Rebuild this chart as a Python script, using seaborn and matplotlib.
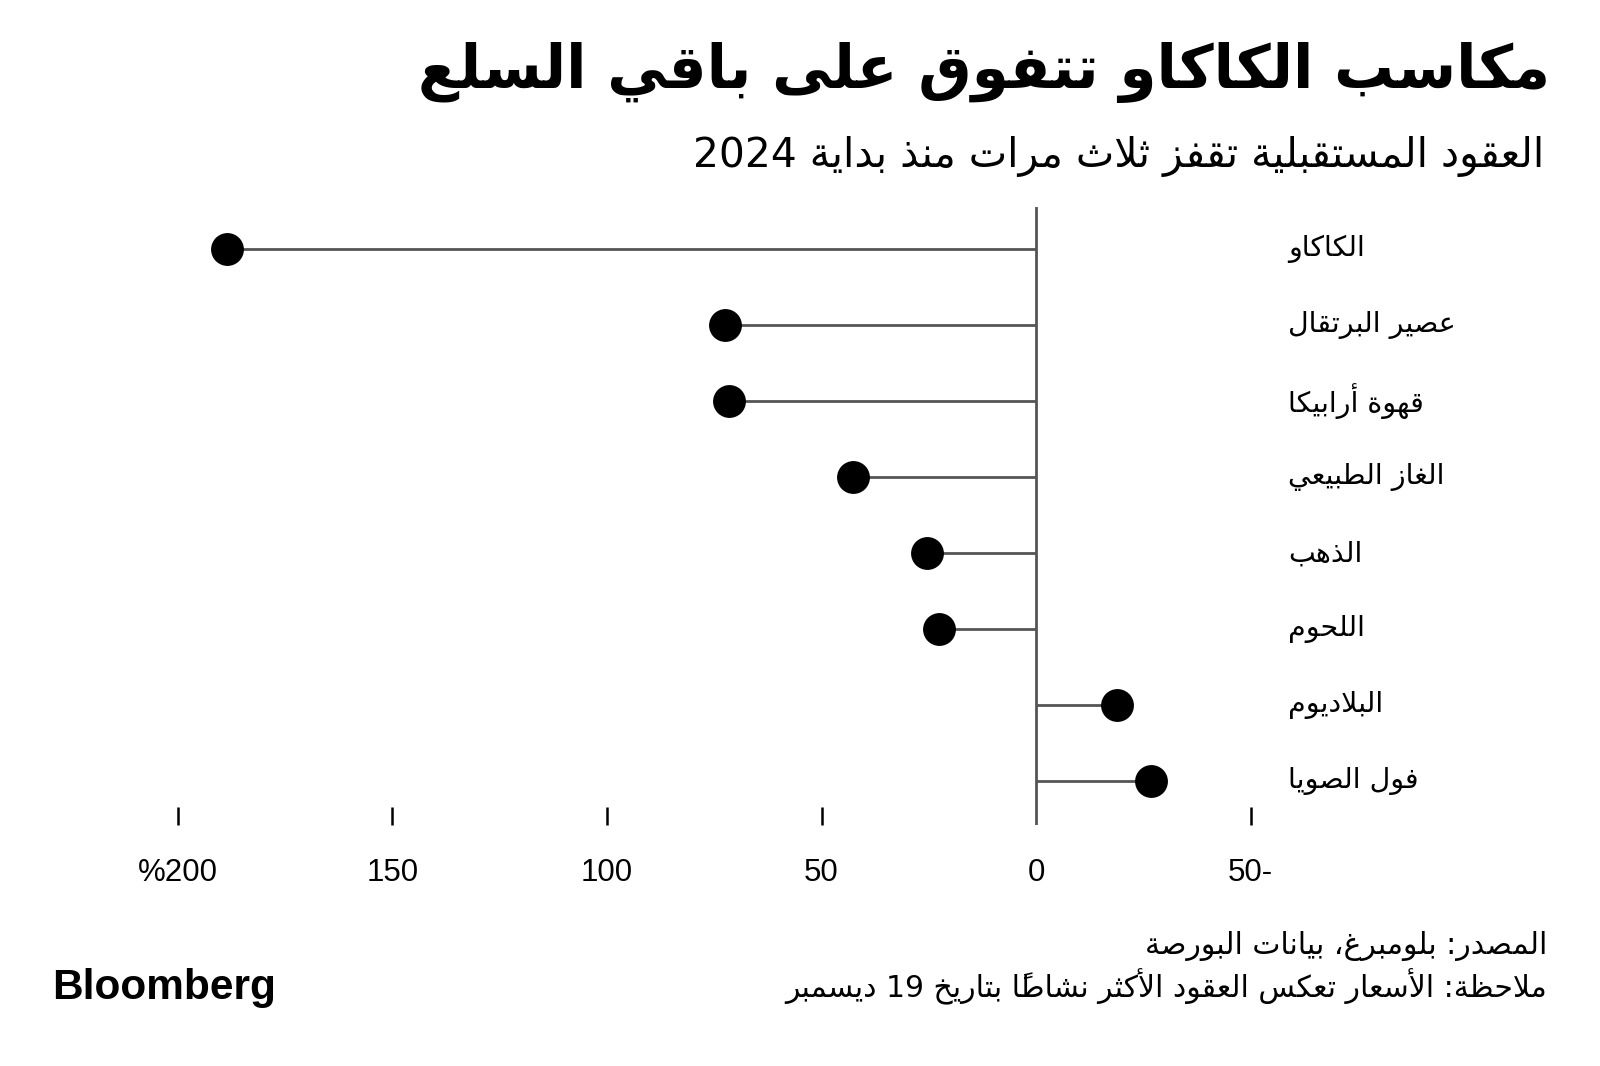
import matplotlib
matplotlib.use("Agg")
import matplotlib.pyplot as plt
import matplotlib.transforms as mtrans
import seaborn as sns
import pandas as pd

# ---------------- data ----------------
categories = ["الكاكاو", "عصير البرتقال", "قهوة أرابيكا", "الغاز الطبيعي",
              "الذهب", "اللحوم", "البلاديوم", "فول الصويا"]
values = [188.5, 72.5, 71.6, 42.6, 25.5, 22.6, -18.9, -26.8]
tick_values = [200, 150, 100, 50, 0, -50]
tick_labels = ["%200", "150", "100", "50", "0", "50-"]

title = "مكاسب الكاكاو تتفوق على باقي السلع"
subtitle = "العقود المستقبلية تقفز ثلاث مرات منذ بداية 2024"
source = "المصدر: بلومبرغ، بيانات البورصة"
note = "ملاحظة: الأسعار تعكس العقود الأكثر نشاطاً بتاريخ 19 ديسمبر"

# ---------------- minimal Arabic shaping (presentation forms) + RTL ordering ----------------
_LETTERS = "ءآأؤإئابةتثجحخدذرزسشصضطظعغفقكلمنهوىي"
_NFORMS = [1, 2, 2, 2, 2, 4, 2, 4, 2, 4, 4, 4, 4, 4, 2, 2, 2, 2,
           4, 4, 4, 4, 4, 4, 4, 4, 4, 4, 4, 4, 4, 4, 4, 2, 2, 4]
_FORMS = {}
_b = 0xFE80
for _ch, _n in zip(_LETTERS, _NFORMS):
    _FORMS[_ch] = [chr(_b + i) for i in range(_n)]
    _b += _n
_LAMALEF = {"آ": 0xFEF5, "أ": 0xFEF7, "إ": 0xFEF9, "ا": 0xFEFB}


def _is_mark(c):
    return 0x064B <= ord(c) <= 0x0652


def _nforms(c):
    return len(_FORMS[c]) if c in _FORMS else 0


def shape(text):
    chars = list(text)
    n = len(chars)

    def prev_letter(i):
        j = i - 1
        while j >= 0 and _is_mark(chars[j]):
            j -= 1
        return chars[j] if j >= 0 else None

    def next_idx(i):
        j = i + 1
        while j < n and _is_mark(chars[j]):
            j += 1
        return j

    out = []
    i = 0
    prev_override = None
    while i < n:
        c = chars[i]
        if _is_mark(c):
            if out:
                out[-1] += c
            else:
                out.append(c)
            i += 1
            continue
        if c not in _FORMS:
            out.append(c)
            prev_override = None
            i += 1
            continue
        p = prev_override if prev_override is not None else prev_letter(i)
        prev_override = None
        jp = p is not None and _nforms(p) == 4 and _nforms(c) >= 2
        j = next_idx(i)
        nx = chars[j] if j < n else None
        if c == "ل" and nx in _LAMALEF:
            cl = chr(_LAMALEF[nx] + (1 if jp else 0))
            for k in range(i + 1, j):
                cl += chars[k]
            out.append(cl)
            prev_override = "ا"
            i = j + 1
            continue
        jn = _nforms(c) == 4 and nx is not None and _nforms(nx) >= 2
        if jp and jn:
            f = 3
        elif jp:
            f = 1
        elif jn:
            f = 2
        else:
            f = 0
        out.append(_FORMS[c][f])
        i += 1
    return out


def ar(text):
    clusters = shape(text)[::-1]
    res, run = [], []
    for cl in clusters:
        if cl[0].isdigit():
            run.append(cl)
        else:
            if run:
                res.extend(run[::-1])
                run = []
            res.append(cl)
    if run:
        res.extend(run[::-1])
    return "".join(res)


# ---------------- figure ----------------
sns.set_theme(style="white")
plt.rcParams["font.family"] = ["DejaVu Sans"]

W, H = 1600, 1066
fig = plt.figure(figsize=(W / 100, H / 100), dpi=100)
fig.patch.set_facecolor("white")

ax_left, ax_right = 177.7, 1250.7
ax_top, ax_bottom = 207.0, 825.0
ax = fig.add_axes([ax_left / W, 1 - ax_bottom / H,
                   (ax_right - ax_left) / W, (ax_bottom - ax_top) / H])

df = pd.DataFrame({"commodity": categories, "change": values,
                   "pos": range(len(categories))})

ax.hlines(df["pos"], 0, df["change"], color="#555555", linewidth=2.0, zorder=1)
ax.axvline(0, color="#555555", linewidth=2.0, zorder=1)
sns.scatterplot(data=df, x="change", y="pos", ax=ax, s=560, color="black",
                edgecolor="black", linewidth=0, zorder=3, legend=False)

ax.set_xlim(200, -50)
ax.set_ylim(len(categories) - 1 + 0.579, -0.557)
for s in ax.spines.values():
    s.set_visible(False)
ax.set_xlabel("")
ax.set_ylabel("")
ax.set_yticks([])
ax.set_xticks(tick_values)
ax.set_xticklabels(tick_labels, family=["Liberation Sans", "DejaVu Sans"], fontsize=22.5)
ax.tick_params(axis="x", direction="in", length=13, width=1.8, color="black",
               pad=24, bottom=True, labelcolor="black")
for t, v in zip(ax.xaxis.get_major_ticks(), tick_values):
    if v == 0:
        t.tick1line.set_visible(False)

# category labels on the right (x in figure coords, y in data coords)
blend = mtrans.blended_transform_factory(fig.transFigure, ax.transData)
for i, name in enumerate(df["commodity"]):
    ax.text(1288 / W, i, ar(name), transform=blend, fontsize=20.5,
            ha="left", va="center", color="black")

# titles
fig.text(1550 / W, 1 - 88 / H, ar(title), fontsize=43, fontweight="bold",
         ha="right", va="baseline", color="black")
fig.text(1544 / W, 1 - 167 / H, ar(subtitle), fontsize=29.3,
         ha="right", va="baseline", color="black")

# footer
fig.text(1547 / W, 1 - 946 / H, ar(source), fontsize=21.5,
         ha="right", va="center", color="black")
fig.text(1547 / W, 1 - 987 / H, ar(note), fontsize=21.5,
         ha="right", va="center", color="black")
fig.text(52 / W, 1 - 988 / H, "Bloomberg", fontsize=30.5, fontweight="bold",
         family=["Liberation Sans", "DejaVu Sans"], ha="left", va="center", color="black")

fig.savefig("out.png", dpi=100, facecolor="white")
